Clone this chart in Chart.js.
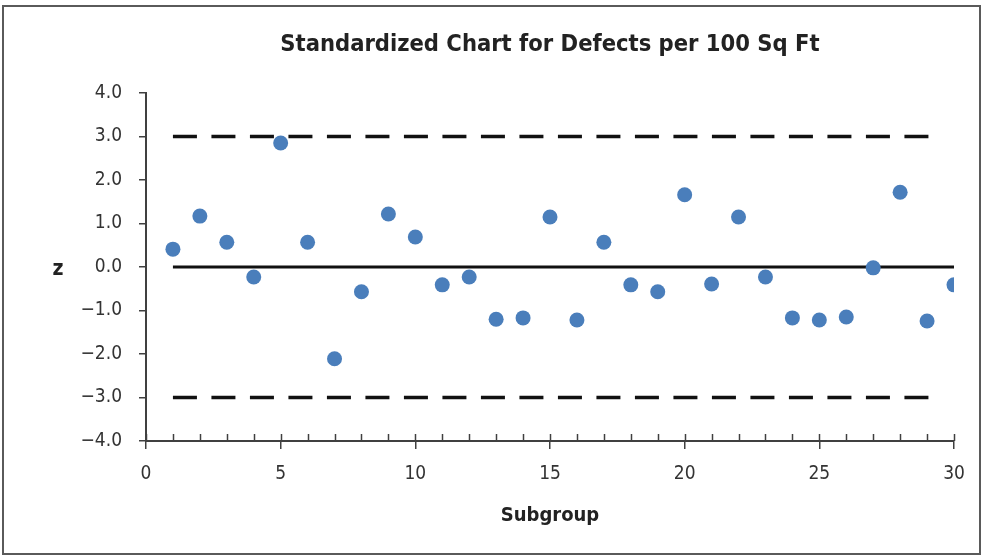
<!DOCTYPE html>
<html>
<head>
<meta charset="utf-8">
<script src="https://cdn.jsdelivr.net/npm/chart.js@4.4.1/dist/chart.umd.min.js"></script>
<style>
  html, body { margin: 0; padding: 0; background: #fff; }
  #wrap { position: relative; width: 983px; height: 558px; }
  #frame { position: absolute; left: 2px; top: 5px; width: 975px; height: 546px; border: 2px solid #5a5a5a; pointer-events: none; }
</style>
</head>
<body>
<div id="wrap">
  <canvas id="zChart" width="983" height="558"></canvas>
  <div id="frame"></div>
</div>
<script>
// Subgroup numbers and standardized values (z)
const subgroups = [1, 2, 3, 4, 5, 6, 7, 8, 9, 10, 11, 12, 13, 14, 15, 16, 17, 18, 19, 20, 21, 22, 23, 24, 25, 26, 27, 28, 29, 30]
const zValues = [0.41, 1.17, 0.57, -0.23, 2.85, 0.57, -2.11, -0.57, 1.22, 0.69,
  -0.41, -0.23, -1.20, -1.17, 1.15, -1.22, 0.57, -0.41, -0.57, 1.66,
  -0.39, 1.15, -0.23, -1.17, -1.22, -1.15, -0.02, 1.72, -1.24, -0.41]

// Control lines: x extent and z level
const centerX = [1, 30]
const centerZ = [0, 0]
const limitX = [1, 29.5]
const uclZ = [3, 3]
const lclZ = [-3, -3]

const yTicks = [-4, -3, -2, -1, 0, 1, 2, 3, 4]
const xTickStep = 5

const TITLE = 'Standardized Chart for Defects per 100 Sq Ft'
const FONT = "'DejaVu Sans Condensed', 'Liberation Sans Narrow', 'DejaVu Sans', sans-serif"
const AXIS_COLOR = '#404040'

function toPoints (xs, ys) {
  return xs.map((x, i) => ({ x: x, y: ys[i] }))
}

// title centred over the plot area, small ticks above the x axis at
// every subgroup, and the upright "z" label
const extras = {
  id: 'extras',
  afterDraw (chart) {
    const ctx = chart.ctx
    const area = chart.chartArea
    const xs = chart.scales.x
    const ys = chart.scales.y
    const base = ys.getPixelForValue(yTicks[0])
    ctx.save()
    ctx.strokeStyle = AXIS_COLOR
    ctx.lineWidth = 1.5
    for (let i = xs.min; i <= xs.max; i++) {
      const px = Math.round(xs.getPixelForValue(i)) + 0.5
      ctx.beginPath()
      ctx.moveTo(px, base)
      ctx.lineTo(px, base - 7)
      ctx.stroke()
    }
    ctx.fillStyle = '#222'
    ctx.textAlign = 'center'
    ctx.textBaseline = 'middle'
    ctx.font = 'bold 23.5px ' + FONT
    ctx.fillText(TITLE, (area.left + area.right) / 2, 45)
    ctx.font = 'bold 21px ' + FONT
    ctx.fillText('z', 58, ys.getPixelForValue(0) + 3)
    ctx.restore()
  }
}

const ctx = document.getElementById('zChart').getContext('2d')
const zChart = new Chart(ctx, {
  type: 'scatter',
  data: {
    datasets: [{
      label: 'z',
      data: toPoints(subgroups, zValues),
      backgroundColor: '#4a7ebb',
      borderColor: '#4a7ebb',
      pointRadius: 7.5,
      pointBorderWidth: 0
    }, {
      label: 'Center',
      data: toPoints(centerX, centerZ),
      showLine: true,
      borderColor: '#111',
      borderWidth: 3,
      pointRadius: 0
    }, {
      label: 'UCL',
      data: toPoints(limitX, uclZ),
      showLine: true,
      borderColor: '#111',
      borderWidth: 3.5,
      borderDash: [24, 14.5],
      pointRadius: 0
    }, {
      label: 'LCL',
      data: toPoints(limitX, lclZ),
      showLine: true,
      borderColor: '#111',
      borderWidth: 3.5,
      borderDash: [24, 14.5],
      pointRadius: 0
    }]
  },
  options: {
    responsive: false,
    animation: false,
    layout: { padding: { left: 0, right: 29, top: 93, bottom: 0 } },
    plugins: {
      legend: { display: false },
      tooltip: { enabled: false },
      title: { display: false }
    },
    scales: {
      x: {
        type: 'linear',
        min: 0,
        max: 30,
        border: { display: true, color: AXIS_COLOR, width: 2 },
        grid: { drawOnChartArea: false, drawTicks: true, tickLength: 8, color: AXIS_COLOR, lineWidth: 1.5 },
        ticks: { stepSize: xTickStep, color: '#333', padding: 14, font: { family: FONT, size: 19 } },
        title: {
          display: true,
          text: 'Subgroup',
          color: '#222',
          font: { family: FONT, size: 20, weight: 'bold', lineHeight: 1.2 },
          padding: { top: 4, bottom: 30 }
        },
        afterFit: function (scale) { scale.height = 117 }
      },
      y: {
        min: yTicks[0],
        max: yTicks[yTicks.length - 1],
        border: { display: true, color: AXIS_COLOR, width: 2 },
        grid: { drawOnChartArea: false, drawTicks: true, tickLength: 7, color: AXIS_COLOR, lineWidth: 1.5 },
        ticks: {
          stepSize: 1,
          color: '#333',
          padding: 17,
          font: { family: FONT, size: 19 },
          callback: function (v) { return v.toFixed(1).replace('-', '\u2212') }
        },
        afterFit: function (scale) { scale.width = 146 }
      }
    }
  },
  plugins: [extras]
})
zChart.update()
</script>
</body>
</html>
